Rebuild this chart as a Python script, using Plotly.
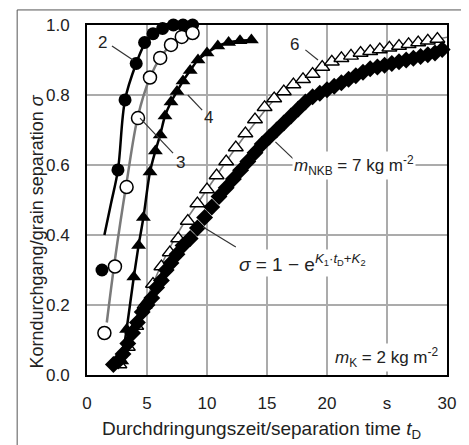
import plotly.graph_objects as go

# ---- data ----
s2_t = [1.25, 2.58, 3.17, 4.1, 4.8, 5.5, 6.3, 7.2, 8.0, 8.8]
s2_s = [0.30, 0.586, 0.786, 0.89, 0.95, 0.975, 0.99, 1.0, 1.0, 1.0]
fit2_t = [1.45, 2.0, 2.58, 3.17, 4.1, 4.8, 5.6, 6.5, 7.5]
fit2_s = [0.40, 0.49, 0.586, 0.786, 0.89, 0.945, 0.975, 0.995, 1.0]

s3_t = [1.45, 2.33, 3.3, 4.25, 5.25, 6.1, 7.0, 7.9, 8.8]
s3_s = [0.12, 0.31, 0.537, 0.734, 0.85, 0.906, 0.943, 0.966, 0.977]
fit3_t = [1.65, 2.33, 3.3, 4.25, 5.25, 6.1, 7.0, 7.9, 8.8]
fit3_s = [0.15, 0.33, 0.55, 0.74, 0.85, 0.906, 0.943, 0.966, 0.977]

s4_t = [2.9, 3.3, 3.9, 4.3, 4.7, 5.25, 5.7, 6.1, 6.5, 7.0, 7.5, 8.0, 8.6, 9.25, 10.0, 10.9, 11.8, 12.75, 13.7]
s4_s = [0.04, 0.13, 0.28, 0.37, 0.45, 0.58, 0.64, 0.686, 0.74, 0.78, 0.81, 0.84, 0.87, 0.90, 0.92, 0.94, 0.95, 0.955, 0.957]

s6_t = [2.7, 3.4, 4.1, 4.8, 5.5, 6.2, 6.9, 7.6, 8.4, 9.2, 10.0, 10.8, 11.6, 12.4, 13.2, 14.0, 14.8,
        15.6, 16.4, 17.2, 18.0, 18.8, 19.6, 20.4, 21.2, 22.0, 22.8, 23.6, 24.4, 25.2, 26.0, 26.8,
        27.6, 28.4, 29.2]
s6_s = [0.03, 0.08, 0.14, 0.20, 0.26, 0.31, 0.35, 0.39, 0.44, 0.49, 0.53, 0.57, 0.61, 0.65, 0.69,
        0.73, 0.765, 0.79, 0.81, 0.83, 0.845, 0.86, 0.88, 0.895, 0.905, 0.912, 0.92, 0.925, 0.93,
        0.935, 0.94, 0.945, 0.95, 0.955, 0.96]
fit6_t = [2.6, 4.0, 5.0, 6.0, 7.0, 8.0, 9.0, 10.0, 11.0, 12.0, 14.0, 16.0, 18.0, 20.0, 22.0, 24.0, 26.0, 28.0, 30.0]
fit6_s = [0.02, 0.14, 0.22, 0.30, 0.37, 0.43, 0.48, 0.53, 0.58, 0.63, 0.72, 0.80, 0.845, 0.885, 0.912, 0.93, 0.94, 0.952, 0.965]

s7_t = [2.2, 2.6, 3.0, 3.4, 3.8, 4.2, 4.6, 5.0, 5.4, 5.8, 6.2, 6.6, 7.0, 7.5, 8.0, 8.6, 9.2, 9.8,
        10.4, 11.0, 11.6, 12.2, 12.8, 13.4, 14.0, 14.6, 15.2, 15.8, 16.4, 17.0, 17.6, 18.2, 18.8,
        19.4, 20.0, 20.6, 21.2, 21.8, 22.4, 23.0, 23.6, 24.2, 24.8, 25.4, 26.0, 26.6, 27.2, 27.8,
        28.4, 29.0, 29.6]
s7_s = [0.03, 0.04, 0.06, 0.09, 0.12, 0.15, 0.18, 0.20, 0.22, 0.25, 0.27, 0.30, 0.32, 0.345, 0.37,
        0.39, 0.42, 0.45, 0.48, 0.51, 0.535, 0.56, 0.585, 0.61, 0.635, 0.66, 0.68, 0.70, 0.72, 0.74,
        0.76, 0.78, 0.795, 0.805, 0.815, 0.825, 0.835, 0.845, 0.855, 0.865, 0.875, 0.88, 0.885,
        0.89, 0.895, 0.90, 0.905, 0.91, 0.915, 0.92, 0.93]

x_ticks = [0, 5, 10, 15, 20, 25, 30]
x_ticktext = ["0", "5", "10", "15", "20", "s", "30"]
y_ticks = [0.0, 0.2, 0.4, 0.6, 0.8, 1.0]
y_ticktext = ["0.0", "0.2", "0.4", "0.6", "0.8", "1.0"]

FONT = "Liberation Sans, Arial, sans-serif"
TXT = "#222222"
GRAY = "#7a7a7a"
GRID = "#ababab"

fig = go.Figure()

# series 6 (open triangles) with gray fit line
fig.add_trace(go.Scatter(x=fit6_t, y=fit6_s, mode="lines", line=dict(color=GRAY, width=1.6, shape="spline"),
                         hoverinfo="skip", cliponaxis=False))
fig.add_trace(go.Scatter(x=s6_t, y=s6_s, mode="markers", cliponaxis=False,
                         marker=dict(symbol="triangle-up", size=13, color="white", line=dict(color="black", width=1.3))))
# m_NKB = 7 (filled diamonds)
fig.add_trace(go.Scatter(x=s7_t, y=s7_s, mode="markers", cliponaxis=False,
                         marker=dict(symbol="diamond", size=13, color="black", line=dict(width=0))))
# series 4 (filled triangles)
fig.add_trace(go.Scatter(x=s4_t, y=s4_s, mode="lines+markers", cliponaxis=False,
                         line=dict(color="black", width=2.5, shape="spline"),
                         marker=dict(symbol="triangle-up", size=13, color="black", line=dict(width=0))))
# series 2 (filled circles)
fig.add_trace(go.Scatter(x=fit2_t, y=fit2_s, mode="lines", line=dict(color="black", width=2.5, shape="spline"),
                         cliponaxis=False))
fig.add_trace(go.Scatter(x=s2_t, y=s2_s, mode="markers", cliponaxis=False,
                         marker=dict(symbol="circle", size=13, color="black", line=dict(width=0))))
# series 3 (open circles)
fig.add_trace(go.Scatter(x=fit3_t, y=fit3_s, mode="lines", line=dict(color=GRAY, width=2.5, shape="spline"),
                         cliponaxis=False))
fig.add_trace(go.Scatter(x=s3_t, y=s3_s, mode="markers", cliponaxis=False,
                         marker=dict(symbol="circle", size=13, color="white", line=dict(color="black", width=1.5))))

# leader lines (data coords)
leaders = [
    (2.08, 0.94, 3.83, 0.90),
    (4.42, 0.734, 7.17, 0.634),
    (8.4, 0.80, 9.6, 0.757),
    (18.2, 0.929, 19.25, 0.90),
    (15.7, 0.666, 17.3, 0.614),
    (9.67, 0.423, 12.4, 0.366),
]
for x0, y0, x1, y1 in leaders:
    fig.add_shape(type="line", xref="x", yref="y", x0=x0, y0=y0, x1=x1, y1=y1,
                  line=dict(color="#333333", width=1.2))

# outer frame
fig.add_shape(type="rect", xref="paper", yref="paper", x0=-0.194, x1=1.0417, y0=-0.205, y1=1.043,
              line=dict(color="#555555", width=1), fillcolor="rgba(0,0,0,0)", layer="above")

ann = [
    dict(x=1.25, y=0.949, text="2"),
    dict(x=7.75, y=0.606, text="3"),
    dict(x=10.1, y=0.737, text="4"),
    dict(x=17.3, y=0.943, text="6"),
]
for a in ann:
    fig.add_annotation(x=a["x"], y=a["y"], text=a["text"], showarrow=False, xref="x", yref="y",
                       xanchor="center", yanchor="middle",
                       font=dict(family=FONT, size=17, color=TXT))

fig.add_annotation(x=17.1, y=0.60, xanchor="left", yanchor="middle", showarrow=False,
                   text="<i>m</i><sub>NKB</sub> = 7 kg m<sup>-2</sup>", bgcolor="white", borderpad=1,
                   font=dict(family=FONT, size=17, color=TXT))
fig.add_annotation(x=12.5, y=0.32, xanchor="left", yanchor="middle", showarrow=False,
                   text="<i>σ</i> = 1 − e<sup><i>K</i><sub>1</sub>·<i>t</i><sub>D</sub>+<i>K</i><sub>2</sub></sup>",
                   bgcolor="white", borderpad=1, font=dict(family=FONT, size=19, color=TXT))
fig.add_annotation(x=29.4, y=0.049, xanchor="right", yanchor="middle", showarrow=False,
                   text="<i>m</i><sub>K</sub> = 2 kg m<sup>-2</sup>", bgcolor="white", borderpad=1,
                   font=dict(family=FONT, size=17, color=TXT))

# axis titles
fig.add_annotation(x=-0.139, y=0.41, xref="paper", yref="paper", textangle=-90, showarrow=False,
                   xanchor="center", yanchor="middle",
                   text="Korndurchgang/grain separation <i>σ</i>", font=dict(family=FONT, size=18, color=TXT))
fig.add_annotation(x=0.486, y=-0.157, xref="paper", yref="paper", showarrow=False,
                   xanchor="center", yanchor="middle",
                   text="Durchdringungszeit/separation time <i>t</i><sub>D</sub>",
                   font=dict(family=FONT, size=19, color=TXT))

# page has an 8px body margin -> margins reduced by 8 so plot area lands at x 87-447, y 25-375
fig.update_layout(
    width=469, height=445,
    margin=dict(l=79, r=30, t=17, b=78, autoexpand=False),
    paper_bgcolor="white", plot_bgcolor="white",
    showlegend=False,
    font=dict(family=FONT, color=TXT),
)
fig.update_xaxes(range=[0, 30], tickvals=x_ticks, ticktext=x_ticktext, showgrid=True,
                 gridcolor=GRID, gridwidth=1.5, zeroline=False, showline=True, linecolor="black",
                 linewidth=2, mirror=True, ticks="outside", ticklen=12, tickcolor="rgba(0,0,0,0)",
                 tickfont=dict(family=FONT, size=17, color=TXT))
fig.update_yaxes(range=[0, 1], tickvals=y_ticks, ticktext=y_ticktext, showgrid=True,
                 gridcolor=GRID, gridwidth=1.5, zeroline=False, showline=True, linecolor="black",
                 linewidth=2, mirror=True, ticks="outside", ticklen=12, tickcolor="rgba(0,0,0,0)",
                 tickfont=dict(family=FONT, size=17, color=TXT))

fig.write_html("out.html")
